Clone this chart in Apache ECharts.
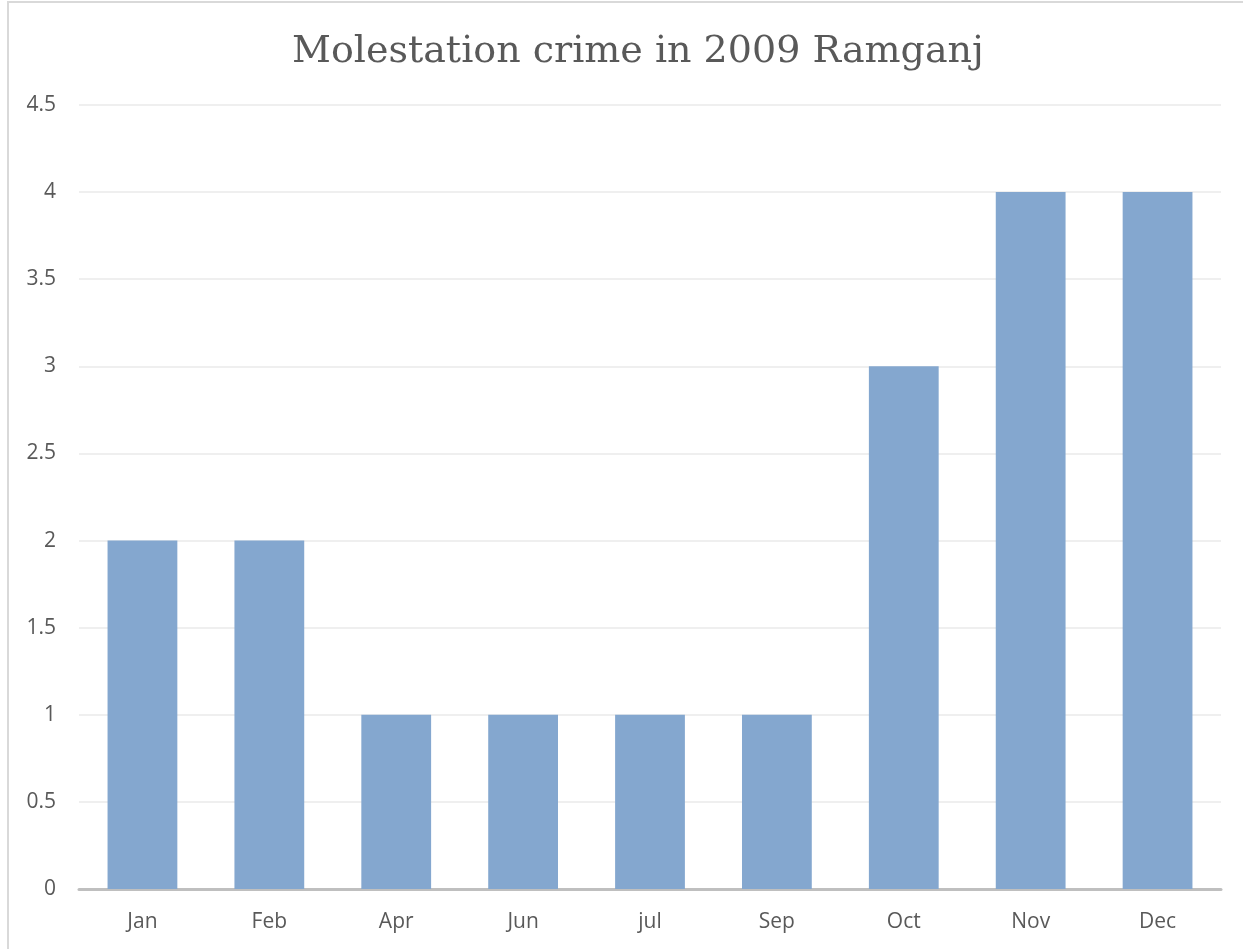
<!DOCTYPE html>
<html>
<head>
<meta charset="utf-8">
<script src="https://cdn.jsdelivr.net/npm/echarts@6/dist/echarts.min.js"></script>
<style>
  html, body { margin: 0; padding: 0; background: #fff; }
  #chart { width: 1243px; height: 949px; }
</style>
</head>
<body>
<div id="chart"></div>
<script>
const months = ['Jan', 'Feb', 'Apr', 'Jun', 'jul', 'Sep', 'Oct', 'Nov', 'Dec']
const crimes = [2, 2, 1, 1, 1, 1, 3, 4, 4]
const yMin = 0
const yMax = 4.5
const yStep = 0.5

const chart = echarts.init(document.getElementById('chart'))

chart.setOption({
  animation: false,
  title: {
    text: 'Molestation crime in 2009 Ramganj',
    left: 287,
    top: 28,
    textStyle: { fontFamily: 'DejaVu Serif', fontWeight: 'normal', fontSize: 38, color: '#595959' },
  },
  grid: { left: 79, right: 22, top: 105, bottom: 60 },
  xAxis: {
    type: 'category',
    data: months,
    axisLine: { lineStyle: { color: '#bfbfbf', width: 3 } },
    axisTick: { show: false },
    axisLabel: { color: '#595959', fontSize: 21, margin: 23, fontFamily: 'Open Sans' },
  },
  yAxis: {
    type: 'value',
    min: yMin,
    max: yMax,
    interval: yStep,
    axisLine: { show: false },
    axisTick: { show: false },
    axisLabel: { color: '#595959', fontSize: 21, margin: 23, fontFamily: 'Open Sans' },
    splitLine: { lineStyle: { color: '#efefef', width: 2 } },
  },
  series: [{
    type: 'bar',
    data: crimes,
    barWidth: '55%',
    itemStyle: { color: '#84a7cf' },
  }],
  graphic: [
    { type: 'line', shape: { x1: 8, y1: 1, x2: 8, y2: 949 }, style: { stroke: '#d9d9d9', lineWidth: 2 } },
    { type: 'line', shape: { x1: 8, y1: 2, x2: 1243, y2: 2 }, style: { stroke: '#d9d9d9', lineWidth: 2 } },
  ],
})
</script>
</body>
</html>
